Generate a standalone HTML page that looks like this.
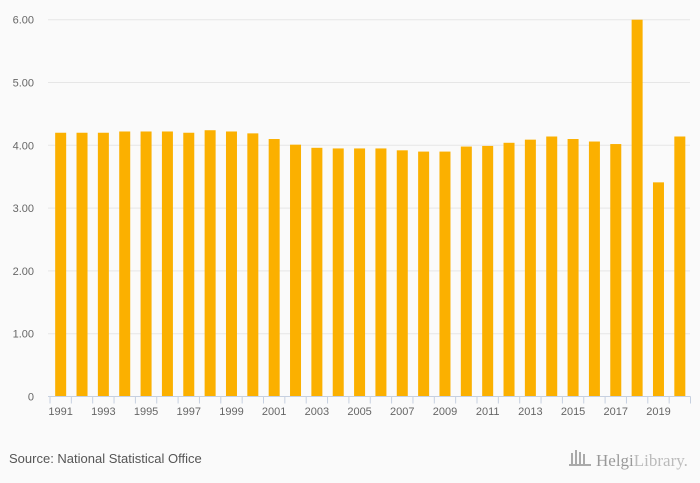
<!DOCTYPE html>
<html><head><meta charset="utf-8"><style>
body{margin:0;background:#fafafa;font-family:"Liberation Sans",sans-serif}
</style></head><body>
<svg id="c" width="700" height="483" style="display:block;background:#fafafa">
<g id="grid"></g><g id="bars"></g><g id="axis"></g>
<text x="9" y="463" font-size="13" fill="#555">Source: National Statistical Office</text>
<g>
<g fill="#aaa"><rect x="571" y="453" width="2" height="12"/><rect x="575" y="450" width="2" height="15"/><rect x="579" y="452" width="2" height="13"/><rect x="583" y="454" width="2" height="11"/><rect x="569" y="464" width="22" height="2"/></g>
<text x="596" y="466" font-size="17" fill="#999" font-family="Liberation Serif,serif">Helgi<tspan fill="#bbb">Library.</tspan></text>
</g>
</svg>
<script>
const years=[1991,1992,1993,1994,1995,1996,1997,1998,1999,2000,2001,2002,2003,2004,2005,2006,2007,2008,2009,2010,2011,2012,2013,2014,2015,2016,2017,2018,2019,2020];
const values=[4.2,4.2,4.2,4.22,4.22,4.22,4.2,4.24,4.22,4.19,4.1,4.01,3.96,3.95,3.95,3.95,3.92,3.9,3.9,3.98,3.99,4.04,4.09,4.14,4.1,4.06,4.02,6.0,3.41,4.14];
const yTicks=[0,1,2,3,4,5,6];
const yTickLabels=["0","1.00","2.00","3.00","4.00","5.00","6.00"];
const NS="http://www.w3.org/2000/svg";
const x0=50,step=21.35,y0=396.5,unit=62.8;
const yS=v=>y0-v*unit;
function mk(t,a,p){const e=document.createElementNS(NS,t);for(const k in a)e.setAttribute(k,a[k]);p.appendChild(e);return e;}
const grid=document.getElementById('grid'),bars=document.getElementById('bars'),axis=document.getElementById('axis');
yTicks.forEach((v,i)=>{
 if(v>0){const l=mk('line',{x1:48,x2:690,y1:yS(v),y2:yS(v),stroke:'#e6e6e6'},grid);
 
 }
 const t=mk('text',{x:34,y:yS(v)+4,'text-anchor':'end','font-size':11,fill:'#666'},axis);
 t.textContent=yTickLabels[i];
 
 
});
values.forEach((v,i)=>{
 const cx=x0+step*(i+0.5);
 const r=mk('rect',{x:cx-5.5,y:yS(v),width:11,height:v*unit,fill:'#fbb000'},bars);
 
 
});
const ax=mk('line',{x1:48,x2:x0+step*years.length,y1:y0,y2:y0,stroke:'#c6d0e0'},axis);


for(let i=0;i<=years.length;i++){
 const tx=x0+step*i;
 const tk=mk('line',{x1:tx,x2:tx,y1:y0,y2:y0+7,stroke:'#c6d0e0'},axis);
 
 
}
years.forEach((y,i)=>{
 if(i%2)return;
 const t=mk('text',{x:x0+step*(i+0.5),y:415,'text-anchor':'middle','font-size':11,fill:'#666'},axis);
 t.textContent=y;
 
 
});
</script>
</body></html>
